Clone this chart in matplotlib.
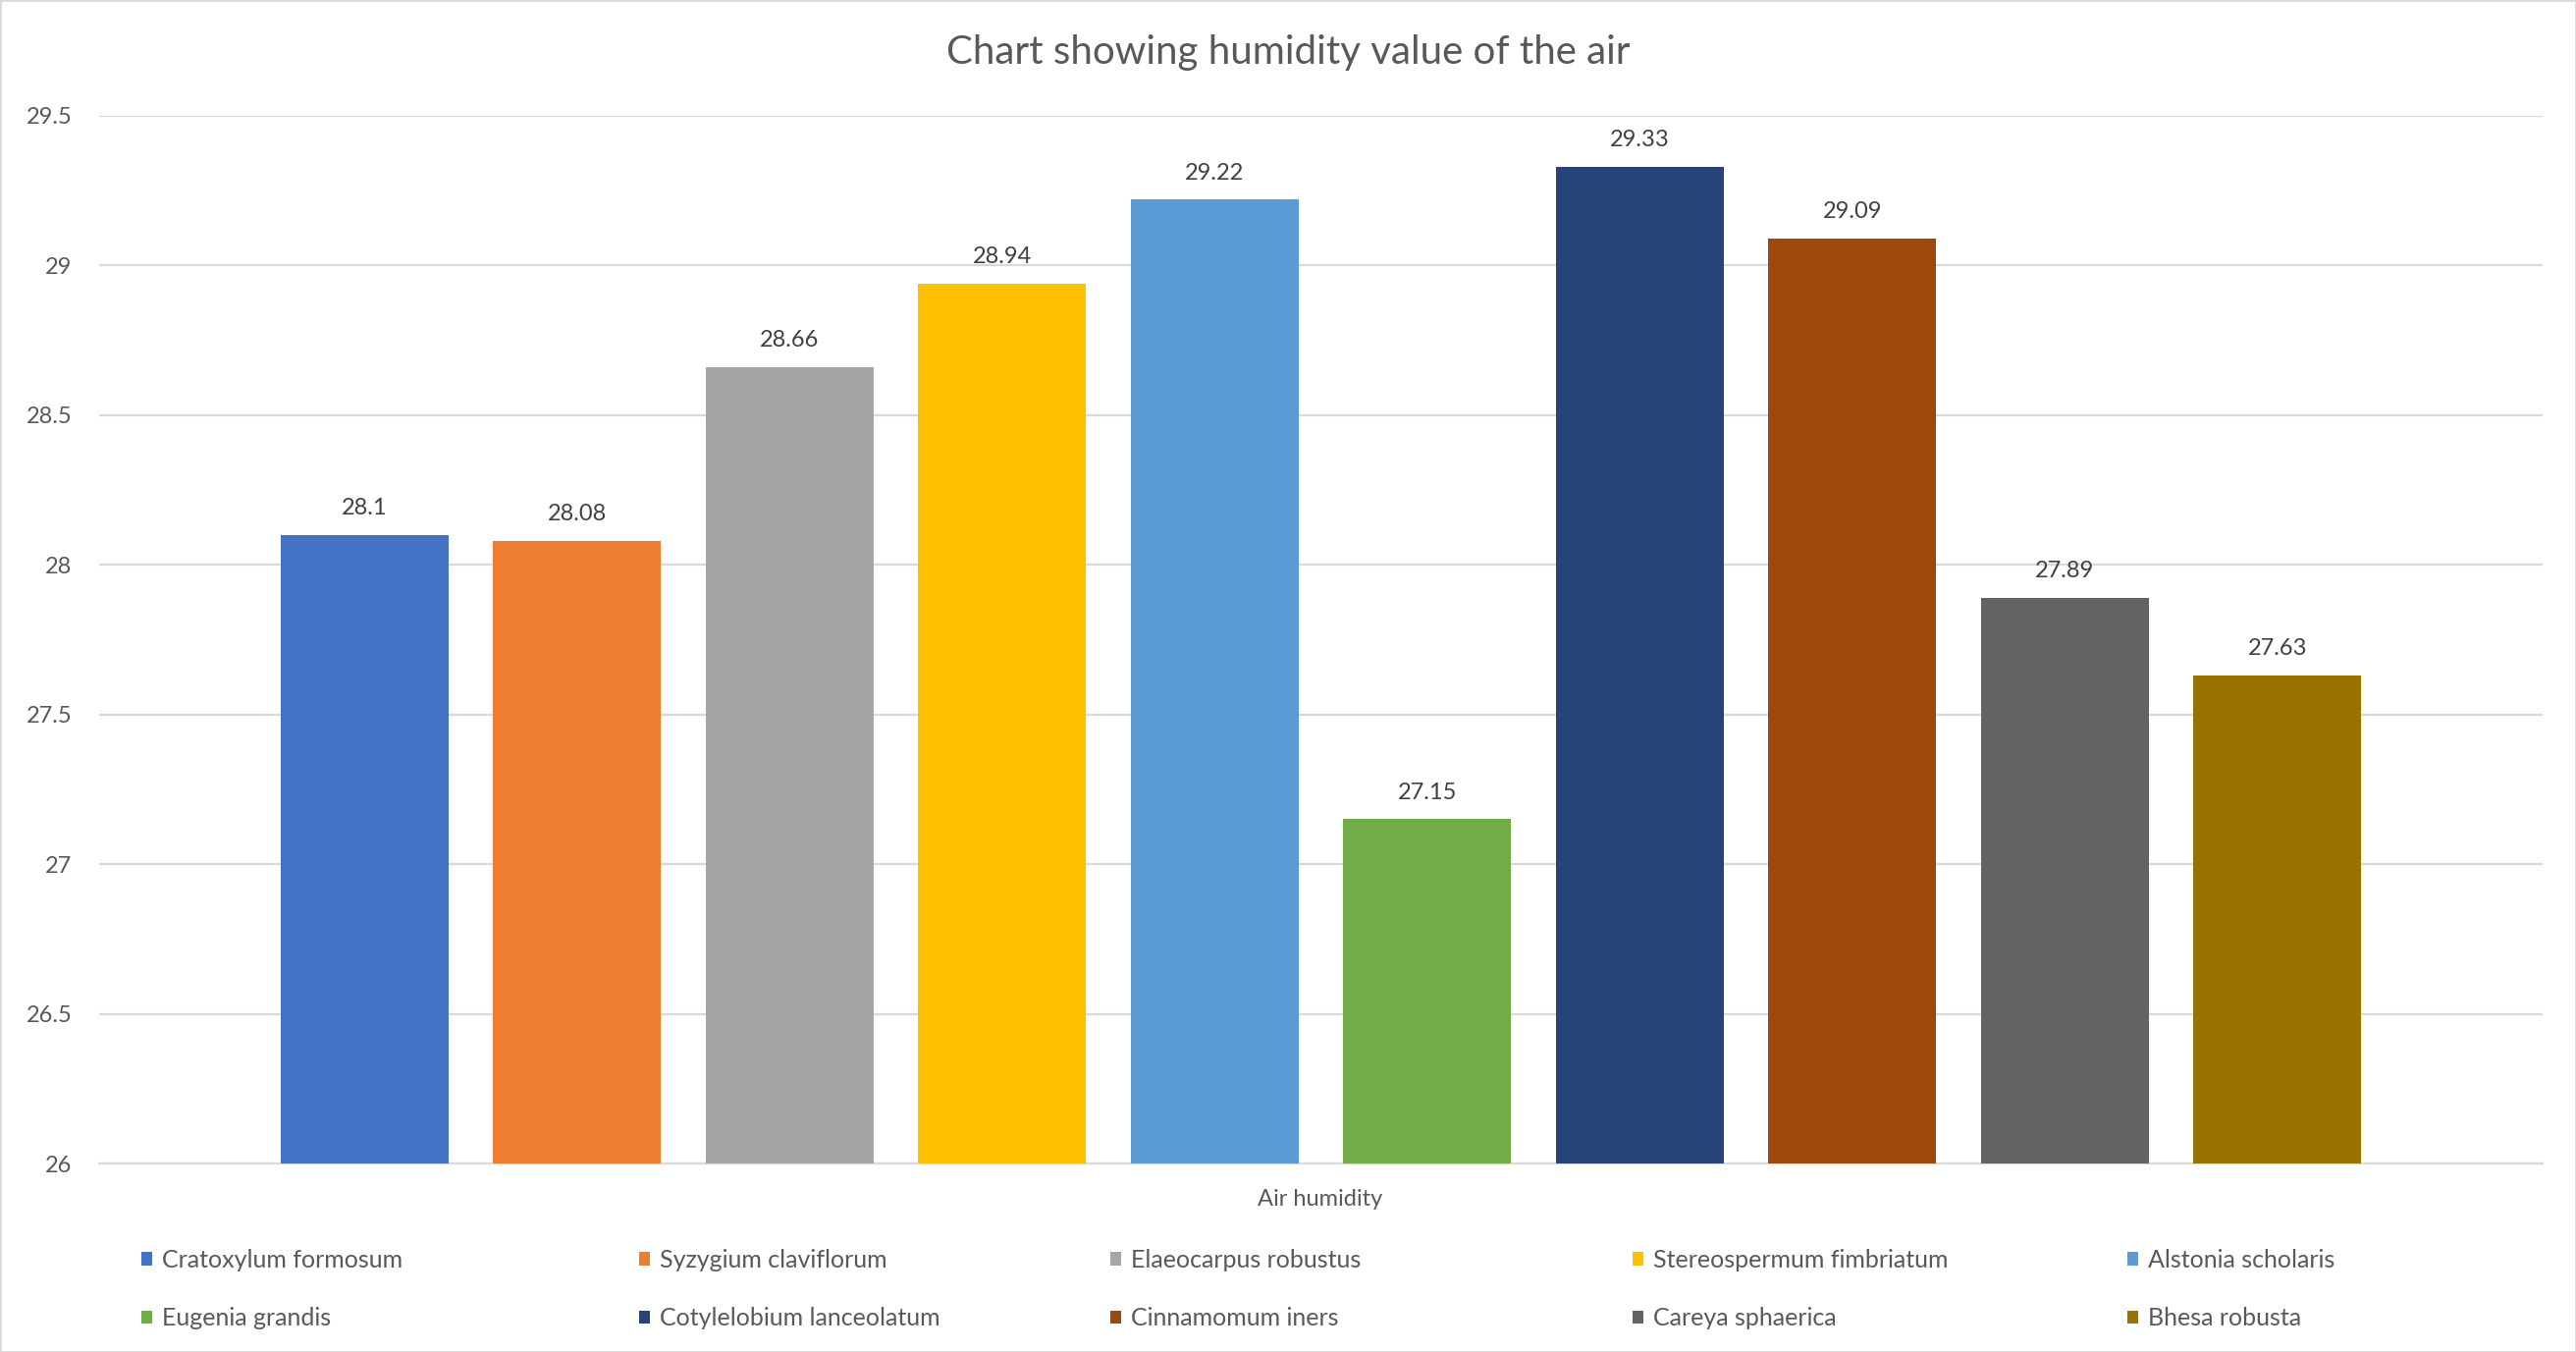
import matplotlib
matplotlib.use("Agg")
import matplotlib.pyplot as plt
from matplotlib.patches import Patch, Rectangle
import numpy as np

# ---- data ----
species = ["Cratoxylum formosum", "Syzygium claviflorum", "Elaeocarpus robustus",
           "Stereospermum fimbriatum", "Alstonia scholaris", "Eugenia grandis",
           "Cotylelobium lanceolatum", "Cinnamomum iners", "Careya sphaerica",
           "Bhesa robusta"]
humidity = [28.1, 28.08, 28.66, 28.94, 29.22, 27.15, 29.33, 29.09, 27.89, 27.63]
colors = ["#4472C4", "#ED7D31", "#A5A5A5", "#FFC000", "#5B9BD5",
          "#70AD47", "#264478", "#9E480E", "#636363", "#997300"]
yticks = [26, 26.5, 27, 27.5, 28, 28.5, 29, 29.5]
ytick_labels = ["26", "26.5", "27", "27.5", "28", "28.5", "29", "29.5"]
title = "Chart showing humidity value of the air"
category = "Air humidity"

plt.rcParams['font.family'] = ['Lato', 'DejaVu Sans']
TXT = "#595959"
FS = 17
LFS = 18
W, H = 2624, 1377
fig = plt.figure(figsize=(W / 100, H / 100), dpi=100)

ax_l, ax_r, ax_t, ax_b = 101, 2590, 118, 1185
ax = fig.add_axes([ax_l / W, 1 - ax_b / H, (ax_r - ax_l) / W, (ax_b - ax_t) / H])

x = np.arange(len(species))
for i, (name, v, c) in enumerate(zip(species, humidity, colors)):
    b = ax.bar(x[i], v - 26, bottom=26, width=0.79, color=c, label=name, zorder=3)
    ax.bar_label(b, labels=[f"{v:g}"], padding=12, fontsize=FS, color="#404040")

ax.set_ylim(26, 29.5)
ax.set_xlim(-1.249, 10.249)
ax.set_yticks(yticks)
ax.set_yticklabels(ytick_labels, fontsize=FS, color=TXT)
ax.tick_params(axis='y', length=0, pad=20)
ax.set_xticks([])
ax.grid(axis='y', color="#D9D9D9", lw=1.6, zorder=0)
for s in ['top', 'right', 'left']:
    ax.spines[s].set_visible(False)
ax.spines['bottom'].set_color("#D9D9D9")
ax.spines['bottom'].set_linewidth(1.6)
ax.set_facecolor("white")

fig.text(0.5, 1 - 53 / H, title, ha='center', va='center', fontsize=29, color=TXT)
fig.text(1345 / W, 1 - 1221 / H, category, ha='center', va='center', fontsize=FS, color=TXT)

# legend: 5 columns, 2 rows
col_x = [144, 651, 1131, 1663, 2167]
row_y = 1272
for c in range(5):
    idx = [c, c + 5]
    handles = [Patch(facecolor=colors[i], edgecolor='none') for i in idx]
    labels = [species[i] for i in idx]
    fig.legend(handles, labels, loc='upper left',
               bbox_to_anchor=(col_x[c] / W, 1 - row_y / H),
               frameon=False, fontsize=LFS, labelcolor=TXT,
               handlelength=0.45, handleheight=0.45, handletextpad=0.4,
               borderpad=0, borderaxespad=0, labelspacing=1.46)

fig.patches.append(Rectangle((0, 0), 1, 1, transform=fig.transFigure, fill=False,
                             edgecolor="#D9D9D9", lw=2))

fig.savefig("out.png", dpi=100, facecolor="white")
